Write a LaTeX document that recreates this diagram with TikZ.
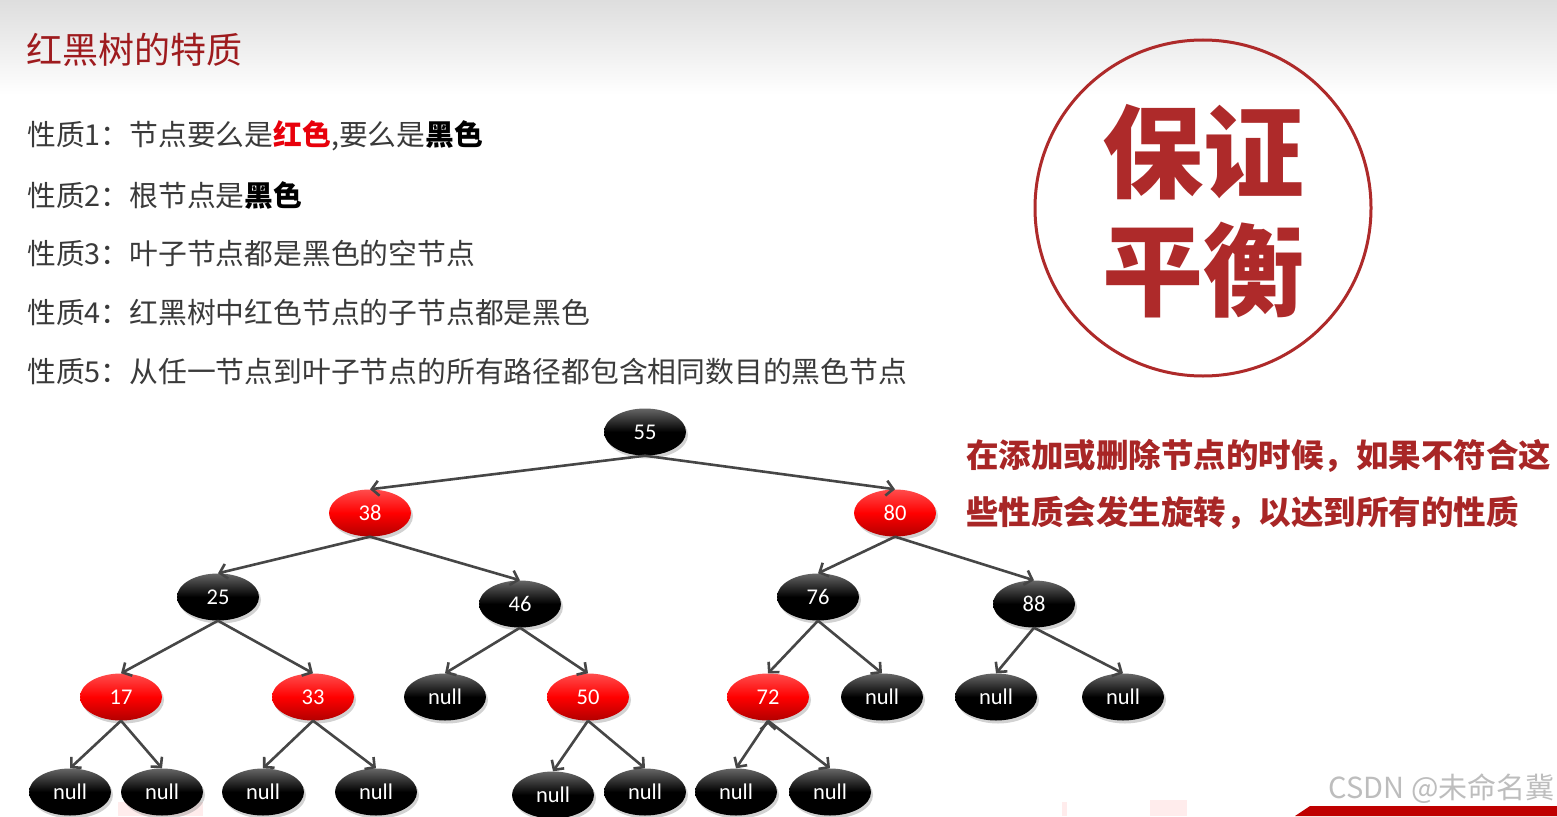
\documentclass[tikz,border=0pt]{standalone}
\usepackage{fontspec}
\setmainfont{Noto Sans CJK SC}
\newfontfamily\numfont{Carlito}
\usetikzlibrary{shapes.geometric, arrows.meta, shadows, positioning}

\definecolor{titlered}{HTML}{9E1B1E}
\definecolor{sealred}{HTML}{AE2A2A}
\definecolor{notered}{HTML}{A82626}
\definecolor{textgray}{HTML}{3A3A3A}
\definecolor{edgegray}{HTML}{464646}
\definecolor{hotred}{HTML}{E8000B}

\begin{document}
\begin{tikzpicture}[x=1pt,y=-1pt,>={Straight Barb[length=7pt,width=15pt]},
      rbnode/.style={ellipse,minimum width=82pt,minimum height=47pt,inner sep=0pt,
        font=\numfont\fontsize{22.5}{22.5}\selectfont,text=white,
        drop shadow={opacity=0.35,shadow xshift=2pt,shadow yshift=-3pt}},
      blk/.style={rbnode,top color=black!60,bottom color=black,middle color=black},
      rd/.style={rbnode,top color=red!70!white,bottom color=red!70!black,middle color=red},
      link/.style={->,draw=edgegray,line width=2.6pt},
      prop/.style={anchor=west,inner sep=0pt,text=textgray,font=\fontsize{28.8}{34}\selectfont},
      note/.style={anchor=west,inner sep=0pt,text=notered,font=\bfseries\fontsize{32.5}{38}\selectfont}]
      \fill[white] (0,0) rectangle (1557,816);
      \useasboundingbox (0,0) rectangle (1557,816);
      \shade[top color=black!13,bottom color=white] (0,0) rectangle (1557,95);
      \fill[pink!30] (118,802) rectangle (203,816);
      \fill[pink!30] (1062,802) rectangle (1067,816);
      \fill[pink!30] (1150,800) rectangle (1187,816);
      \fill[red!75!black] (1295,816) -- (1310,806) -- (1557,806) -- (1557,816) -- cycle;

      \node[anchor=west,inner sep=0pt,text=titlered,font=\fontsize{36}{40}\selectfont] (title) at (26,50) {红黑树的特质};
      \node[prop] (p1) at (27,136) {性质1：节点要么是{\bfseries\color{hotred}红色},要么是{\bfseries\color{black}黑色}};
      \node[prop] (p2) at (27,195) {性质2：根节点是{\bfseries\color{black}黑色}};
      \node[prop] (p3) at (27,254) {性质3：叶子节点都是黑色的空节点};
      \node[prop] (p4) at (27,313) {性质4：红黑树中红色节点的子节点都是黑色};
      \node[prop] (p5) at (27,372) {性质5：从任一节点到叶子节点的所有路径都包含相同数目的黑色节点};

      \node[circle,draw=sealred,line width=3pt,minimum size=336pt] (seal) at (1203,208) {};
      \node[text=sealred,align=center,inner sep=0pt,font=\bfseries\fontsize{101}{118}\selectfont] (sealtext) at (1203,211) {保证\\平衡};
      \node[note] (note1) at (966,456) {在添加或删除节点的时候，如果不符合这};
      \node[note] (note2) at (966,513) {些性质会发生旋转，以达到所有的性质};
      \node[anchor=east,inner sep=0pt,text=black!26,font=\fontsize{29}{32}\selectfont] (mark) at (1555,789) {CSDN @未命名冀};

      \node[blk] (n55) at (645,432) {55};
      \node[rd] (n38) at (370,513) {38};
      \node[rd] (n80) at (895,513) {80};
      \node[blk] (n25) at (218,597) {25};
      \node[blk] (n46) at (520,604) {46};
      \node[blk] (n76) at (818,597) {76};
      \node[blk] (n88) at (1034,604) {88};
      \node[rd] (n17) at (121,697) {17};
      \node[rd] (n33) at (313,697) {33};
      \node[blk] (nil46) at (445,697) {null};
      \node[rd] (n50) at (588,697) {50};
      \node[rd] (n72) at (768,697) {72};
      \node[blk] (nil76) at (882,697) {null};
      \node[blk] (nil88a) at (996,697) {null};
      \node[blk] (nil88b) at (1123,697) {null};
      \node[blk] (nil17a) at (70,792) {null};
      \node[blk] (nil17b) at (162,792) {null};
      \node[blk] (nil33a) at (263,792) {null};
      \node[blk] (nil33b) at (376,792) {null};
      \node[blk] (nil50a) at (553,795) {null};
      \node[blk] (nil50b) at (645,792) {null};
      \node[blk] (nil72a) at (736,792) {null};
      \node[blk] (nil72b) at (830,792) {null};

      \path[link] (n55.south) edge (n38.north)
        (n55.south) edge (n80.north)
        (n38.south) edge (n25.north)
        (n38.south) edge (n46.north)
        (n80.south) edge (n76.north)
        (n80.south) edge (n88.north)
        (n25.south) edge (n17.north)
        (n25.south) edge (n33.north)
        (n46.south) edge (nil46.north)
        (n46.south) edge (n50.north)
        (n76.south) edge (n72.north)
        (n76.south) edge (nil76.north)
        (n88.south) edge (nil88a.north)
        (n88.south) edge (nil88b.north)
        (n17.south) edge (nil17a.north)
        (n17.south) edge (nil17b.north)
        (n33.south) edge (nil33a.north)
        (n33.south) edge (nil33b.north)
        (n50.south) edge (nil50a.north)
        (n50.south) edge (nil50b.north)
        (n72.south) edge (nil72a.north)
        (n72.south) edge (nil72b.north);
    \end{tikzpicture}
\end{document}
